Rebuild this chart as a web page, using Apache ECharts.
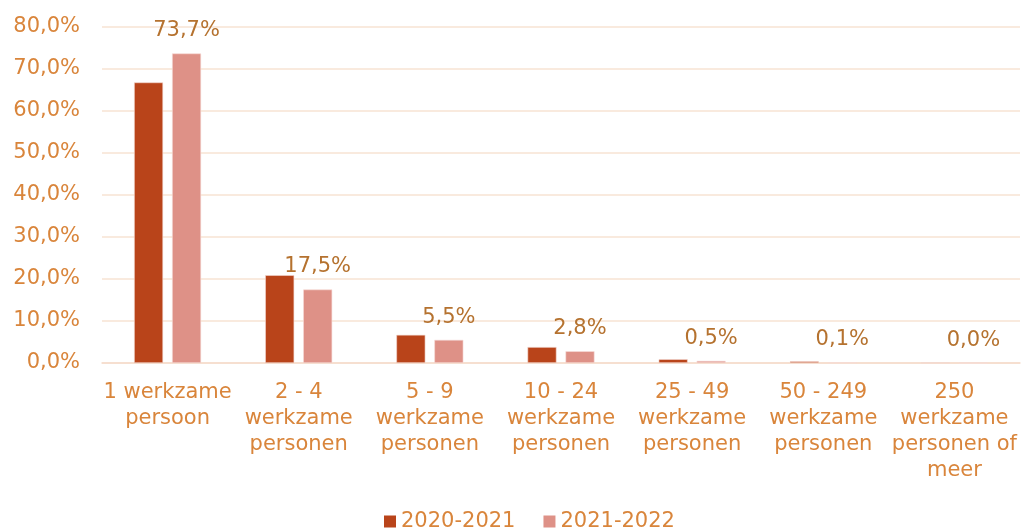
<!DOCTYPE html>
<html>
<head>
<meta charset="utf-8">
<script src="https://cdn.jsdelivr.net/npm/echarts@6/dist/echarts.min.js"></script>
<style>
  html, body { margin: 0; padding: 0; background: #fff; }
  #main { width: 1022px; height: 529px; }
</style>
</head>
<body>
<div id="main"></div>
<script>
const categories = ['1 werkzame\npersoon', '2 - 4\nwerkzame\npersonen', '5 - 9\nwerkzame\npersonen',
    '10 - 24\nwerkzame\npersonen', '25 - 49\nwerkzame\npersonen', '50 - 249\nwerkzame\npersonen',
    '250\nwerkzame\npersonen of\nmeer'];
const seriesNames = ['2020-2021', '2021-2022'];
const values2021 = [66.8, 20.9, 6.7, 3.8, 0.9, 0.4, 0.0];
const values2022 = [73.7, 17.5, 5.5, 2.8, 0.5, 0.1, 0.0];

const axisColor = '#d9853b';
const labelColor = '#b5722f';
const font = 'DejaVu Sans, Verdana, sans-serif';

const myChart = echarts.init(document.getElementById('main'));
const option = {
    animation: false,
    grid: { left: 102, right: 2, top: 27, bottom: 166 },
    legend: {
        data: seriesNames,
        left: 379,
        top: 506,
        itemWidth: 12,
        itemHeight: 12,
        itemGap: 28,
        icon: 'rect',
        itemStyle: { borderWidth: 0 },
        textStyle: { color: axisColor, fontSize: 21, fontFamily: font }
    },
    xAxis: {
        type: 'category',
        data: categories,
        axisLine: { lineStyle: { color: '#f5dccb', width: 1.5 } },
        axisTick: { show: false },
        axisLabel: {
            color: axisColor, fontSize: 21, fontFamily: font,
            lineHeight: 26, margin: 17, interval: 0
        }
    },
    yAxis: {
        type: 'value',
        min: 0,
        max: 80,
        interval: 10,
        axisLine: { show: false },
        axisTick: { show: false },
        splitLine: { lineStyle: { color: '#f7e3d3', width: 1.5 } },
        axisLabel: {
            color: axisColor, fontSize: 21, fontFamily: font, margin: 22,
            formatter: function (v) { return v.toFixed(1).replace('.', ',') + '%'; }
        }
    },
    series: [
        {
            name: seriesNames[0],
            type: 'bar',
            data: values2021,
            barWidth: 29,
            barGap: '31%',
            itemStyle: { color: '#b9441a', borderColor: '#f3d9d2', borderWidth: 0.6 }
        },
        {
            name: seriesNames[1],
            type: 'bar',
            data: values2022,
            barWidth: 29,
            itemStyle: { color: '#de9187', borderColor: '#f6dcd8', borderWidth: 0.6 },
            label: {
                show: true,
                position: 'top',
                distance: 12,
                color: labelColor,
                fontSize: 21,
                fontFamily: font,
                formatter: function (p) { return p.value.toFixed(1).replace('.', ',') + '%'; }
            }
        }
    ]
};
myChart.setOption(option);
</script>
</body>
</html>
